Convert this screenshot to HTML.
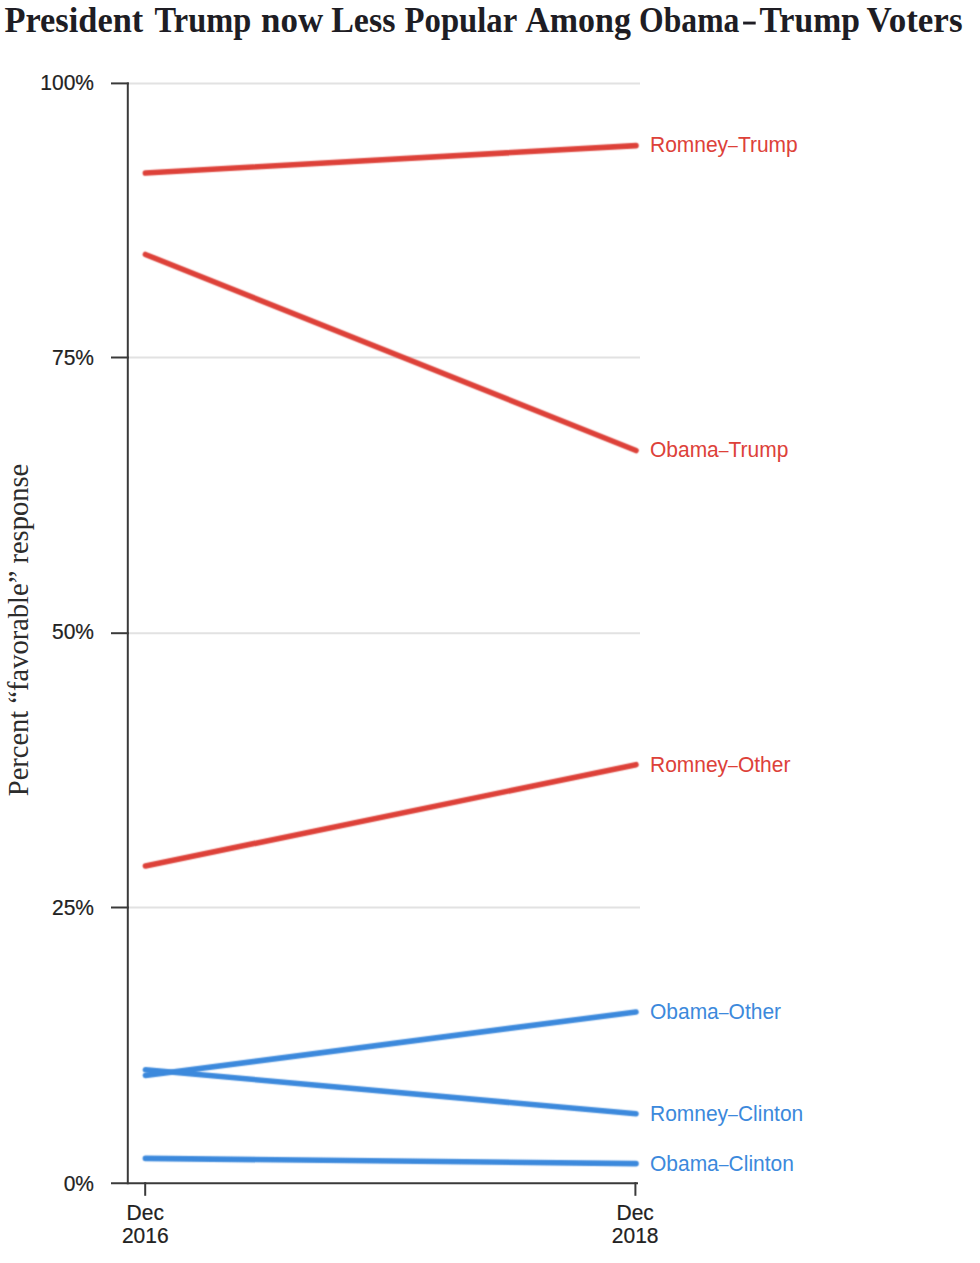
<!DOCTYPE html>
<html>
<head>
<meta charset="utf-8">
<style>
html,body{margin:0;padding:0;background:#fff;}
body{width:980px;height:1263px;overflow:hidden;position:relative;}
svg{position:absolute;left:0;top:0;}
.tick{font-family:"Liberation Sans",sans-serif;font-size:21px;fill:#222;stroke:#222;stroke-width:0.2px;}
.lab{font-family:"Liberation Sans",sans-serif;font-size:21px;stroke-width:0;}
</style>
</head>
<body>
<svg width="980" height="1263" viewBox="0 0 980 1263">
  <defs><filter id="soft" color-interpolation-filters="sRGB" x="-5%" y="-5%" width="110%" height="110%"><feConvolveMatrix order="3" kernelMatrix="1 3 1 3 9 3 1 3 1" edgeMode="none"/></filter></defs>
  <!-- title -->
  <g font-family="Liberation Serif" font-weight="bold" font-size="35" fill="#1e1d24" lengthAdjust="spacingAndGlyphs">
    <text x="4.52" y="31.6" textLength="138.67" lengthAdjust="spacingAndGlyphs">President</text>
    <text x="154.6" y="31.6" textLength="96.67" lengthAdjust="spacingAndGlyphs">Trump</text>
    <text x="261.0" y="31.6" textLength="62.15" lengthAdjust="spacingAndGlyphs">now</text>
    <text x="331.23" y="31.6" textLength="64.16" lengthAdjust="spacingAndGlyphs">Less</text>
    <text x="404.57" y="31.6" textLength="112.67" lengthAdjust="spacingAndGlyphs">Popular</text>
    <text x="525.3" y="31.6" textLength="105.61" lengthAdjust="spacingAndGlyphs">Among</text>
    <text x="639.09" y="31.6" textLength="100.29" lengthAdjust="spacingAndGlyphs">Obama</text>
    <rect x="743.1" y="21.6" width="12.6" height="2.9" fill="#1e1d24"/>
    <text x="759.6" y="31.6" textLength="100.3" lengthAdjust="spacingAndGlyphs">Trump</text>
    <text x="866.6" y="31.6" textLength="95.92" lengthAdjust="spacingAndGlyphs">Voters</text>
  </g>

  <!-- gridlines -->
  <g stroke="#e2e2e2" stroke-width="2">
    <line x1="128" y1="83.4" x2="640" y2="83.4"/>
    <line x1="128" y1="357.5" x2="640" y2="357.5"/>
    <line x1="128" y1="633.2" x2="640" y2="633.2"/>
    <line x1="128" y1="907.5" x2="640" y2="907.5"/>
  </g>

  <!-- axes -->
  <g stroke="#3a3a3a" stroke-width="2" fill="none">
    <line x1="127.8" y1="82.4" x2="127.8" y2="1184.2"/>
    <line x1="111" y1="1183.2" x2="638" y2="1183.2"/>
    <line x1="111" y1="83.4" x2="128.8" y2="83.4"/>
    <line x1="111" y1="357.5" x2="128.8" y2="357.5"/>
    <line x1="111" y1="633.2" x2="128.8" y2="633.2"/>
    <line x1="111" y1="907.5" x2="128.8" y2="907.5"/>
    <line x1="145.2" y1="1182.2" x2="145.2" y2="1195.8"/>
    <line x1="635.4" y1="1182.2" x2="635.4" y2="1195.8"/>
  </g>

  <!-- y tick labels -->
  <g class="tick" text-anchor="end">
    <text x="94" y="89.6" transform="matrix(1 0 0 1.08 0 -7.168)">100%</text>
    <text x="94" y="365.0" transform="matrix(1 0 0 1.08 0 -29.200)">75%</text>
    <text x="94" y="638.8" transform="matrix(1 0 0 1.08 0 -51.104)">50%</text>
    <text x="94" y="1190.8" transform="matrix(1 0 0 1.08 0 -95.264)">0%</text>
    <text x="94" y="915.0" transform="matrix(1 0 0 1.08 0 -73.200)">25%</text>
  </g>

  <!-- x tick labels -->
  <g class="tick" text-anchor="middle">
    <text x="145.3" y="1220.5" transform="matrix(1 0 0 1.08 0 -97.640)">Dec</text>
    <text x="145.3" y="1243.2" transform="matrix(1 0 0 1.08 0 -99.456)">2016</text>
    <text x="635.2" y="1220.5" transform="matrix(1 0 0 1.08 0 -97.640)">Dec</text>
    <text x="635.2" y="1243.2" transform="matrix(1 0 0 1.08 0 -99.456)">2018</text>
  </g>

  <!-- y axis title -->
  <text transform="translate(27.8,630) rotate(-90)" text-anchor="middle" font-family="Liberation Serif" font-size="28.5" fill="#2c2c2c">Percent “favorable” response</text>

  <!-- series -->
  <g stroke-width="5.6" stroke-linecap="round" fill="none" filter="url(#soft)">
    <line x1="145.4" y1="173" x2="636" y2="145.6" stroke="#dd4139"/>
    <line x1="145.4" y1="254.5" x2="636" y2="450.5" stroke="#dd4139"/>
    <line x1="145.4" y1="866" x2="636" y2="764.7" stroke="#dd4139"/>
    <line x1="145.4" y1="1075.5" x2="636" y2="1012" stroke="#3c89dc"/>
    <line x1="145.4" y1="1069.8" x2="636" y2="1113.8" stroke="#3c89dc"/>
    <line x1="145.4" y1="1158.4" x2="636" y2="1163.6" stroke="#3c89dc"/>
  </g>

  <!-- series labels -->
  <g class="lab">
    <text x="650" y="152.1" transform="matrix(1 0 0 1.03 0 -4.563)" fill="#dd4139" stroke="#dd4139">Romney<tspan font-size="17.6" dy="-0.8">–</tspan><tspan dy="0.8">Trump</tspan></text>
    <text x="650" y="456.6" transform="matrix(1 0 0 1.03 0 -13.698)" fill="#dd4139" stroke="#dd4139">Obama<tspan font-size="17.6" dy="-0.8">–</tspan><tspan dy="0.8">Trump</tspan></text>
    <text x="650" y="771.9" transform="matrix(1 0 0 1.03 0 -23.157)" fill="#dd4139" stroke="#dd4139">Romney<tspan font-size="17.6" dy="-0.8">–</tspan><tspan dy="0.8">Other</tspan></text>
    <text x="650" y="1019.2" transform="matrix(1 0 0 1.03 0 -30.576)" fill="#3c89dc" stroke="#3c89dc">Obama<tspan font-size="17.6" dy="-0.8">–</tspan><tspan dy="0.8">Other</tspan></text>
    <text x="650" y="1120.8" transform="matrix(1 0 0 1.03 0 -33.624)" fill="#3c89dc" stroke="#3c89dc">Romney<tspan font-size="17.6" dy="-0.8">–</tspan><tspan dy="0.8">Clinton</tspan></text>
    <text x="650" y="1170.8" transform="matrix(1 0 0 1.03 0 -35.124)" fill="#3c89dc" stroke="#3c89dc">Obama<tspan font-size="17.6" dy="-0.8">–</tspan><tspan dy="0.8">Clinton</tspan></text>
  </g>
</svg>
</body>
</html>
